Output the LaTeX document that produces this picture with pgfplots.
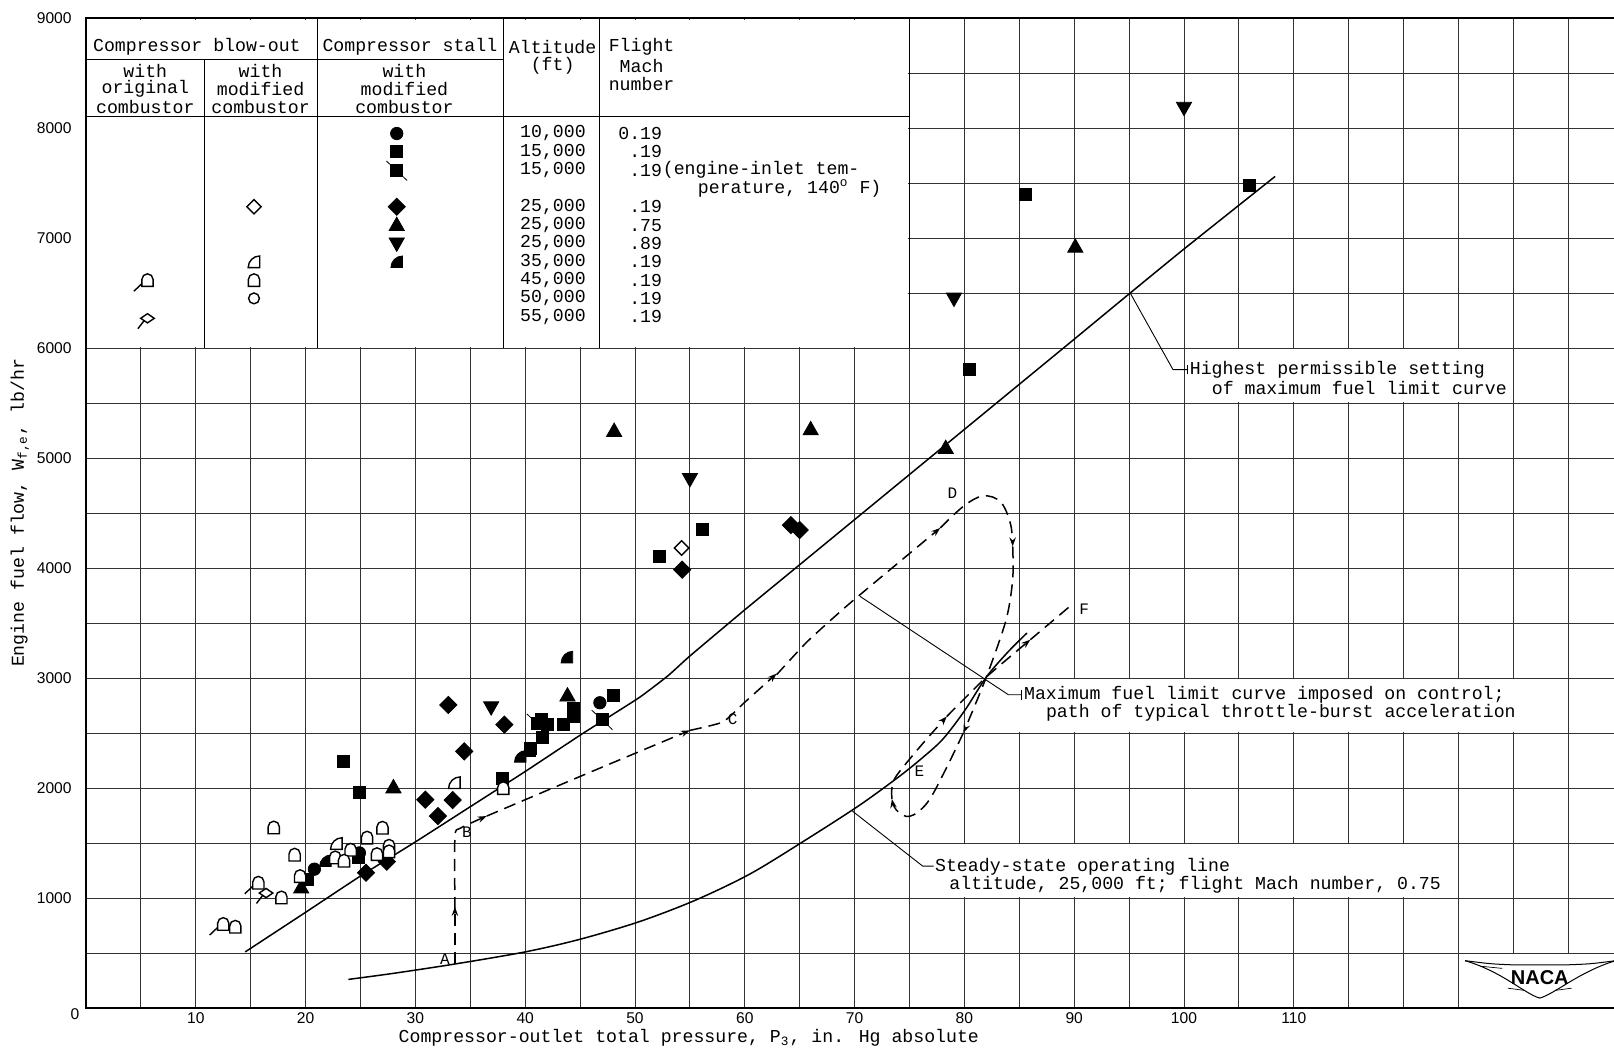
\documentclass[border=0pt]{standalone}
\usepackage{pgfplots}
\pgfplotsset{compat=1.18}
\usepackage{fontspec}
\setmainfont{Liberation Mono}
\newfontfamily\sansf{Liberation Sans}
\usetikzlibrary{arrows.meta}
\newcommand\tw{\fontsize{9.1}{9.2}\selectfont}
\newcommand\lt{\fontsize{7.8}{8}\selectfont}
\newcommand\ltr{\fontsize{8}{8}\selectfont}

% ---------- plot marks ----------
\pgfdeclareplotmark{sq}{\pgfpathrectangle{\pgfqpoint{-3pt}{-3pt}}{\pgfqpoint{6pt}{6pt}}\pgfusepathqfillstroke}
\pgfdeclareplotmark{sqtail}{\pgfpathrectangle{\pgfqpoint{-3pt}{-3pt}}{\pgfqpoint{6pt}{6pt}}\pgfusepathqfillstroke
  \pgfpathmoveto{\pgfqpoint{-5.2pt}{4.6pt}}\pgfpathlineto{\pgfqpoint{5.2pt}{-5.2pt}}\pgfusepathqstroke}
\pgfdeclareplotmark{circ}{\pgfpathcircle{\pgfpointorigin}{3.1pt}\pgfusepathqfillstroke}
\pgfdeclareplotmark{diam}{\pgfpathmoveto{\pgfqpoint{0pt}{4.3pt}}\pgfpathlineto{\pgfqpoint{4.3pt}{0pt}}\pgfpathlineto{\pgfqpoint{0pt}{-4.3pt}}\pgfpathlineto{\pgfqpoint{-4.3pt}{0pt}}\pgfpathclose\pgfusepathqfillstroke}
\pgfdeclareplotmark{odiam}{\pgfpathmoveto{\pgfqpoint{0pt}{3.6pt}}\pgfpathlineto{\pgfqpoint{3.6pt}{0pt}}\pgfpathlineto{\pgfqpoint{0pt}{-3.6pt}}\pgfpathlineto{\pgfqpoint{-3.6pt}{0pt}}\pgfpathclose\pgfusepathqfillstroke}
\pgfdeclareplotmark{ocirc}{\pgfpathcircle{\pgfpointorigin}{2.7pt}\pgfusepathqfillstroke}
\pgfdeclareplotmark{tri}{\pgfpathmoveto{\pgfqpoint{0pt}{4pt}}\pgfpathlineto{\pgfqpoint{3.8pt}{-2.7pt}}\pgfpathlineto{\pgfqpoint{-3.8pt}{-2.7pt}}\pgfpathclose\pgfusepathqfillstroke}
\pgfdeclareplotmark{dtri}{\pgfpathmoveto{\pgfqpoint{0pt}{-4pt}}\pgfpathlineto{\pgfqpoint{3.8pt}{2.7pt}}\pgfpathlineto{\pgfqpoint{-3.8pt}{2.7pt}}\pgfpathclose\pgfusepathqfillstroke}
\pgfdeclareplotmark{quart}{\pgfpathmoveto{\pgfqpoint{2.9pt}{-2.9pt}}\pgfpathlineto{\pgfqpoint{-2.9pt}{-2.9pt}}\pgfpatharc{180}{90}{5.8pt}\pgfpathclose\pgfusepathqfillstroke}
\pgfdeclareplotmark{arch}{\pgfpathmoveto{\pgfqpoint{-2.8pt}{-3.2pt}}\pgfpathlineto{\pgfqpoint{-2.8pt}{0.3pt}}\pgfpatharc{180}{0}{2.8pt}\pgfpathlineto{\pgfqpoint{2.8pt}{-3.2pt}}\pgfpathclose\pgfusepathqfillstroke}
\pgfdeclareplotmark{archtail}{\pgfpathmoveto{\pgfqpoint{-2.8pt}{-3.2pt}}\pgfpathlineto{\pgfqpoint{-2.8pt}{0.3pt}}\pgfpatharc{180}{0}{2.8pt}\pgfpathlineto{\pgfqpoint{2.8pt}{-3.2pt}}\pgfpathclose\pgfusepathqfillstroke
  \pgfpathmoveto{\pgfqpoint{-2.8pt}{-1.8pt}}\pgfpathlineto{\pgfqpoint{-6.8pt}{-5.6pt}}\pgfusepathqstroke}
\pgfdeclareplotmark{flag}{\pgfpathmoveto{\pgfqpoint{-3.4pt}{0pt}}\pgfpathlineto{\pgfqpoint{0pt}{2.3pt}}\pgfpathlineto{\pgfqpoint{3.4pt}{0pt}}\pgfpathlineto{\pgfqpoint{0pt}{-2.3pt}}\pgfpathclose\pgfusepathqfillstroke
  \pgfpathmoveto{\pgfqpoint{-1.7pt}{-1.2pt}}\pgfpathlineto{\pgfqpoint{-4.8pt}{-5.2pt}}\pgfusepathqstroke}

\pgfplotsset{
  filled/.style={only marks, mark options={draw=black, fill=black, line width=0.4pt, solid}},
  open/.style={only marks, mark options={draw=black, fill=white, line width=0.7pt, solid}},
  dpath/.style={line width=0.75pt, dash pattern=on 6pt off 3.5pt, smooth, tension=0.5, black},
  arr/.style={-{Stealth[length=4.5pt,width=3.2pt]}},
}

\begin{document}
\begin{tikzpicture}
\begin{axis}[
  at={(0pt,0pt)}, anchor=south west,
  scale only axis, width=768.6pt, height=495pt,
  xmin=0, xmax=140, ymin=0, ymax=9000,
  clip=false,
  scaled x ticks=false, scaled y ticks=false,
  xtick={0,5,...,140},
  xticklabels={,,10,,20,,30,,40,,50,,60,,70,,80,,90,,100,,110,,,,,,},
  ytick={0,500,...,9000},
  yticklabels={,,1000,,2000,,3000,,4000,,5000,,6000,,7000,,8000,,9000},
  grid=major,
  major grid style={line width=0.45pt, black!80},
  axis line style={line width=1pt},
  major tick length=0pt,
  xticklabel style={font=\sansf\lt, inner sep=0pt, yshift=-2.2pt},
  yticklabel style={font=\sansf\lt, inner sep=0pt, xshift=-7pt},
]

% ---------- white boxes ----------
\fill[white] (axis cs:0.12,6012) rectangle (axis cs:74.9,8985);
\fill[white] (axis cs:100.12,5510) rectangle (axis cs:129.9,5990);
\fill[white] (axis cs:84.9,2510) rectangle (axis cs:134.9,2990);
\fill[white] (axis cs:75.12,1010) rectangle (axis cs:124.9,1490);
\fill[white] (axis cs:125.12,10) rectangle (axis cs:141,490);

% ---------- table lines ----------
\draw[line width=0.5pt] (axis cs:0,8625) -- (axis cs:38,8625);
\draw[line width=0.5pt] (axis cs:0,8105) -- (axis cs:75,8105);
\draw[line width=0.5pt] (axis cs:10.8,6000) -- (axis cs:10.8,8625);
\draw[line width=0.5pt] (axis cs:21.05,6000) -- (axis cs:21.05,9000);
\draw[line width=0.5pt] (axis cs:38,6000) -- (axis cs:38,9000);
\draw[line width=0.5pt] (axis cs:46.8,6000) -- (axis cs:46.8,9000);
\draw[line width=0.5pt] (axis cs:75,6000) -- (axis cs:75,9000);

% ---------- table text ----------
\begin{scope}[every node/.style={inner sep=0pt, font=\tw}]
\node at (axis cs:10.1,8735) {Compressor blow-out};
\node at (axis cs:29.5,8735) {Compressor stall};
\node at (axis cs:42.5,8735) {Altitude};
\node at (axis cs:42.5,8568) {(ft)};
\node at (axis cs:50.6,8735) {Flight};
\node at (axis cs:50.6,8568) {Mach};
\node at (axis cs:50.6,8402) {number};
\node at (axis cs:5.4,8521) {with};
\node at (axis cs:5.4,8354) {original};
\node at (axis cs:5.4,8188) {combustor};
\node at (axis cs:15.9,8521) {with};
\node at (axis cs:15.9,8354) {modified};
\node at (axis cs:15.9,8188) {combustor};
\node at (axis cs:29.0,8521) {with};
\node at (axis cs:29.0,8354) {modified};
\node at (axis cs:29.0,8188) {combustor};
\node[anchor=east] at (axis cs:45.55,7950) {10,000};
\node[anchor=east] at (axis cs:45.55,7783) {15,000};
\node[anchor=east] at (axis cs:45.55,7617) {15,000};
\node[anchor=east] at (axis cs:45.55,7284) {25,000};
\node[anchor=east] at (axis cs:45.55,7117) {25,000};
\node[anchor=east] at (axis cs:45.55,6951) {25,000};
\node[anchor=east] at (axis cs:45.55,6784) {35,000};
\node[anchor=east] at (axis cs:45.55,6618) {45,000};
\node[anchor=east] at (axis cs:45.55,6451) {50,000};
\node[anchor=east] at (axis cs:45.55,6285) {55,000};
\node[anchor=east] at (axis cs:52.5,7950) {0.19};
\node[anchor=east] at (axis cs:52.5,7783) {.19};
\node[anchor=east] at (axis cs:52.5,7617) {.19};
\node[anchor=west] at (axis cs:52.5,7617) {(engine-inlet tem-};
\node[anchor=west] at (axis cs:55.7,7450) {perature, 140\textsuperscript{o} F)};
\node[anchor=east] at (axis cs:52.5,7284) {.19};
\node[anchor=east] at (axis cs:52.5,7117) {.75};
\node[anchor=east] at (axis cs:52.5,6951) {.89};
\node[anchor=east] at (axis cs:52.5,6784) {.19};
\node[anchor=east] at (axis cs:52.5,6618) {.19};
\node[anchor=east] at (axis cs:52.5,6451) {.19};
\node[anchor=east] at (axis cs:52.5,6285) {.19};
\end{scope}

% ---------- legend symbols ----------
\addplot[filled, mark=circ] coordinates {(28.3,7950)};
\addplot[filled, mark=sq] coordinates {(28.3,7783)};
\addplot[filled, mark=sqtail] coordinates {(28.3,7617)};
\addplot[filled, mark=diam] coordinates {(28.3,7284)};
\addplot[filled, mark=tri] coordinates {(28.3,7117)};
\addplot[filled, mark=dtri] coordinates {(28.3,6951)};
\addplot[filled, mark=quart] coordinates {(28.3,6784)};
\addplot[open, mark=odiam] coordinates {(15.3,7284)};
\addplot[open, mark=quart] coordinates {(15.3,6784)};
\addplot[open, mark=arch] coordinates {(15.3,6618)};
\addplot[open, mark=ocirc] coordinates {(15.3,6451)};
\addplot[open, mark=archtail] coordinates {(5.6,6618)};
\addplot[open, mark=flag] coordinates {(5.6,6270)};

% ---------- curves ----------
\addplot[line width=0.75pt, smooth, tension=0.3] coordinates {
(14.5,510) (20,870) (25,1200) (30,1510) (35,1830) (40,2150) (45,2480) (48,2670)
(50.5,2830) (53,3020) (55,3200) (60,3620) (65,4030) (70,4440) (75,4850)
(80,5260) (85,5670) (90,6080) (95.1,6500) (100,6900) (108.3,7560)};
\addplot[line width=0.75pt, smooth, tension=0.5] coordinates {
(23.9,260) (28,315) (33.6,400) (40,510) (45,625) (50.4,785) (55.5,980) (60.5,1220)
(65.5,1525) (70.4,1840) (74,2100) (76,2260) (78,2440) (80,2700) (82,3009) (84,3240) (85.7,3409)};

\addplot[dpath, arr] coordinates {(33.6,400) (33.6,920)};
\addplot[dpath, arr, tension=0.4] coordinates {(33.6,900) (33.6,1560) (34.1,1635) (36.5,1745)};
\addplot[dpath, arr] coordinates {(36.5,1745) (45,2105) (55,2524)};
\addplot[dpath, arr, tension=0.3] coordinates {(55,2524) (58.0,2600) (60,2780) (62.9,3040)};
\addplot[dpath, arr, tension=0.3] coordinates {(62.9,3030) (65.7,3332) (69.6,3682) (77.8,4364)};
\addplot[dpath, arr, tension=0.6] coordinates {(77.8,4364) (79.9,4560) (81.7,4655) (83.3,4600) (84.2,4400) (84.4,4196)};
\addplot[dpath, arr, tension=0.5] coordinates {(84.4,4196) (84.4,3900) (83.8,3530) (82.0,3009) (79.9,2500)};
\addplot[dpath, arr, tension=0.6] coordinates {(79.9,2500) (78.2,2150) (76.6,1864) (75.0,1742) (73.8,1800) (73.4,1900)};
\addplot[dpath, arr, tension=0.5] coordinates {(73.4,1900) (73.4,2000) (73.8,2110) (76,2380) (78.4,2651)};
\addplot[dpath, arr, tension=0.3] coordinates {(78.4,2651) (82.0,3009) (86.0,3348)};
\addplot[dpath, tension=0.3] coordinates {(86.0,3348) (89.6,3651)};

% ---------- leaders ----------
\draw[line width=0.45pt] (axis cs:95.1,6500) -- (axis cs:99.0,5803) -- (axis cs:100.3,5803);
\draw[line width=0.45pt] (axis cs:100.3,5760) -- (axis cs:100.3,5850);
\draw[line width=0.45pt] (axis cs:70.5,3742) -- (axis cs:84.0,2848) -- (axis cs:85.2,2848);
\draw[line width=0.45pt] (axis cs:85.2,2800) -- (axis cs:85.2,2895);
\draw[line width=0.45pt] (axis cs:69.8,1790) -- (axis cs:76.2,1290) -- (axis cs:77.2,1290);

% ---------- annotations ----------
\begin{scope}[every node/.style={inner sep=0pt, font=\tw, anchor=west}]
\node at (axis cs:100.5,5803) {Highest permissible setting};
\node at (axis cs:102.5,5640) {of maximum fuel limit curve};
\node at (axis cs:85.4,2850) {Maximum fuel limit curve imposed on control;};
\node at (axis cs:87.4,2683) {path of typical throttle-burst acceleration};
\node at (axis cs:77.3,1288) {Steady-state operating line};
\node at (axis cs:78.6,1121) {altitude, 25,000 ft; flight Mach number, 0.75};
\end{scope}
\begin{scope}[every node/.style={inner sep=0pt, font=\ltr}]
\node at (axis cs:32.7,444) {A};
\node at (axis cs:34.7,1600) {B};
\node at (axis cs:58.9,2625) {C};
\node at (axis cs:78.9,4683) {D};
\node at (axis cs:75.9,2151) {E};
\node at (axis cs:90.9,3626) {F};
\end{scope}

% ---------- data: compressor stall (filled) ----------
\addplot[filled, mark=circ] coordinates {(46.8,2775) (24.9,1410) (20.8,1262)};
\addplot[filled, mark=sq] coordinates {
(106,7480) (85.6,7400) (80.5,5810) (56.1,4355) (52.2,4110) (48.0,2840)
(44.4,2727) (44.4,2652) (43.5,2576) (41.5,2621) (42.0,2576) (41.6,2460)
(40.5,2364) (37.9,2091) (23.4,2242) (24.9,1961) (20.2,1173) (24.8,1370)};
\addplot[filled, mark=sqtail] coordinates {(47.0,2625) (41.1,2590)};
\addplot[filled, mark=diam] coordinates {
(64.2,4390) (65.0,4345) (54.3,3985) (33.0,2755) (38.1,2576) (34.45,2333)
(30.9,1894) (33.4,1890) (32.05,1745) (25.5,1230) (27.4,1330)};
\addplot[filled, mark=tri] coordinates {
(90.1,6920) (78.3,5090) (66.0,5260) (48.1,5245) (43.85,2840) (28.0,2005) (19.6,1095)};
\addplot[filled, mark=dtri] coordinates {(100,8185) (79.05,6450) (55.0,4810) (36.9,2735)};
\addplot[filled, mark=quart] coordinates {(43.8,3190) (39.55,2288) (40.4,2340) (21.8,1339)};

% ---------- data: compressor blow-out (open) ----------
\addplot[open, mark=odiam] coordinates {(54.25,4182)};
\addplot[open, mark=quart] coordinates {(33.55,2048) (22.8,1495)};
\addplot[open, mark=arch] coordinates {
(38.0,2000) (27.0,1640) (17.1,1642) (19.0,1395) (25.6,1550) (27.6,1476)
(26.5,1400) (24.1,1440) (22.7,1370) (23.5,1340) (19.5,1200) (17.8,1006) (13.6,740) (27.6,1425)};
\addplot[open, mark=archtail] coordinates {(15.7,1140) (12.5,765)};
\addplot[open, mark=flag] coordinates {(16.4,1045)};

% ---------- axis label texts ----------
\node[inner sep=0pt, font=\tw] at (axis cs:54.9,0) [yshift=-15pt] {Compressor-outlet total pressure, P\textsubscript{3}, in. Hg absolute};
\node[inner sep=0pt, font=\tw, rotate=90] at ([xshift=-33pt]axis cs:0,4500) {Engine fuel flow, W\textsubscript{f,e}, lb/hr};
\node[inner sep=0pt, font=\sansf\lt] at (axis cs:0,0) [xshift=-5.5pt, yshift=-3pt] {0};

% ---------- NACA logo ----------
\draw[line width=0.5pt] (axis cs:125.6,430) .. controls (axis cs:128,400) .. (axis cs:130,392) -- (axis cs:134.8,392) .. controls (axis cs:137,400) .. (axis cs:139.3,430);
\draw[line width=0.5pt] (axis cs:125.6,430) .. controls (axis cs:129,330) and (axis cs:131,130) .. (axis cs:132.4,90) .. controls (axis cs:133.8,130) and (axis cs:136,330) .. (axis cs:139.3,430);
\draw[line width=0.35pt] (axis cs:127,380) -- (axis cs:129,360);
\draw[line width=0.35pt] (axis cs:129.5,180) -- (axis cs:131,160);
\draw[line width=0.35pt] (axis cs:133.8,160) -- (axis cs:135.3,180);
\node[inner sep=0pt, font=\sansf\bfseries\fontsize{10}{10}\selectfont] at (axis cs:132.4,280) {NACA};
\end{axis}
\pgfresetboundingbox
\path[use as bounding box] (-43pt,-21pt) rectangle (764pt,504pt);
\end{tikzpicture}
\end{document}
